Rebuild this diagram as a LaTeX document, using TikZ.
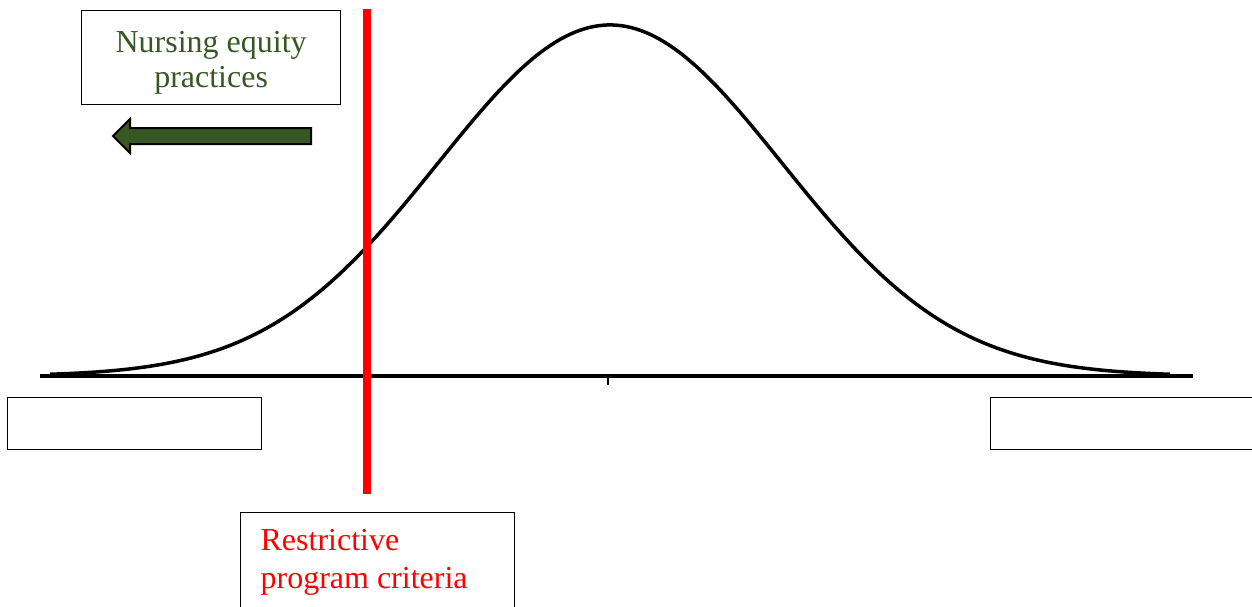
\documentclass[tikz,border=0pt]{standalone}
\usepackage{fontspec}
\setmainfont{Liberation Serif}
\usepackage{tikz}
\definecolor{leafgreen}{RGB}{56,87,35}

\begin{document}
\begin{tikzpicture}[x=1pt,y=-1pt,
  box/.style={draw,line width=1.2pt,inner sep=0pt},
  label/.style={font=\fontsize{32}{38}\selectfont}]

\useasboundingbox (0,0) rectangle (1252,606);
\clip (0,0) rectangle (1252,606);

% bell curve and axis
\draw[line width=3.5] (40,376) -- (1193,376);
\draw[line width=2.5] (608,376) -- (608,385);
\draw[line width=3.5,line join=round] plot[domain=50:1170,samples=240]
  (\x,{376-351*exp(-0.5*((\x-610)/172)^2)});

% boxes
\node[box,font=\fontsize{32}{35}\selectfont,text=leafgreen,align=center,minimum width=259,minimum height=94,anchor=north west]
  (equity) at (81,10) {\rule{0pt}{31pt}Nursing equity\\practices};
\node[box,minimum width=254,minimum height=52,anchor=north west] (lowend) at (7,397) {};
\node[box,minimum width=280,minimum height=52,anchor=north west] (highend) at (990,397) {};
\node[box,label,text=red,align=flush left,text width=234,inner xsep=20pt,minimum height=100,anchor=north west]
  (criteria) at (240,512) {Restrictive\\program criteria};

% cut-off line
\coordinate (cut top) at (367,9);
\coordinate (cut end) at (367,494);
\draw[red,line width=8] (cut top) -- (cut end);

% arrow to the left
\draw[fill=leafgreen,line width=2,line join=miter]
  (311,128) -- (130,128) -- (130,119) -- (113,136) -- (130,153) -- (130,144) -- (311,144) -- cycle;

\end{tikzpicture}
\end{document}
